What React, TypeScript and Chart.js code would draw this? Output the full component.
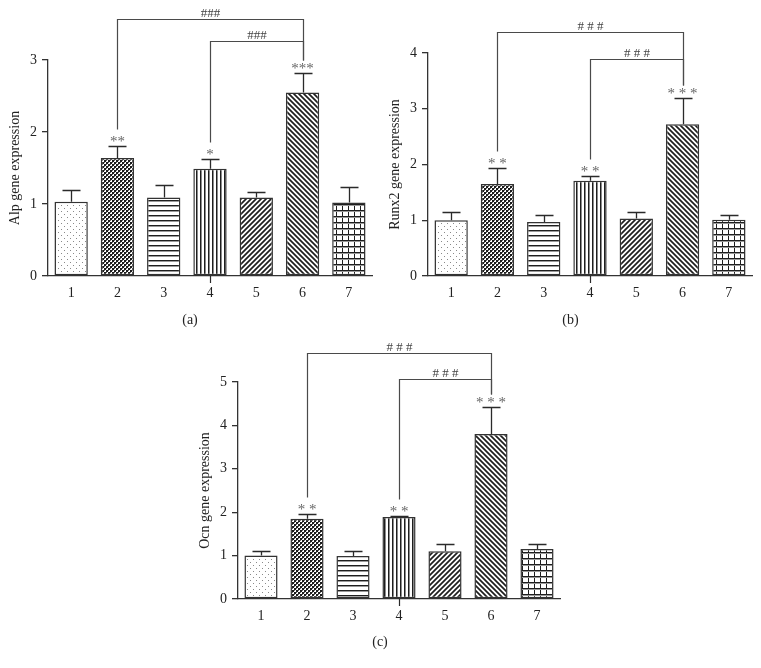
import React, { useEffect, useRef } from 'react';
import { Chart, registerables } from 'chart.js';

Chart.register(...registerables);

const categories = ['1', '2', '3', '4', '5', '6', '7'];

const alpMeans = [1.03, 1.64, 1.09, 1.49, 1.09, 2.55, 1.02];
const alpErrors = [0.17, 0.16, 0.18, 0.13, 0.08, 0.27, 0.21];
const alpStars = ['', '**', '', '*', '', '***', ''];
const alpTicks = [0, 1, 2, 3];
const alpBracketLevels = [3.57, 3.27];

const runx2Means = [1.0, 1.65, 0.97, 1.71, 1.03, 2.72, 1.01];
const runx2Errors = [0.15, 0.29, 0.13, 0.09, 0.12, 0.48, 0.09];
const runx2Stars = ['', '* *', '', '* *', '', '* * *', ''];
const runx2Ticks = [0, 1, 2, 3, 4];
const runx2BracketLevels = [4.38, 3.9];

const ocnMeans = [1.0, 1.85, 0.99, 1.89, 1.1, 3.8, 1.15];
const ocnErrors = [0.11, 0.12, 0.11, 0.02, 0.17, 0.62, 0.11];
const ocnStars = ['', '* *', '', '* *', '', '* * *', ''];
const ocnTicks = [0, 1, 2, 3, 4, 5];
const ocnBracketLevels = [5.67, 5.07];

// bracket pairs (category indices): group 2 vs 6, group 4 vs 6
const bracketFrom = [1, 3];
const bracketTo = [5, 5];

const FONT = '"Liberation Serif", "DejaVu Serif", "Times New Roman", serif';

type Panel = {
  id: string;
  means: number[];
  errors: number[];
  stars: string[];
  ticks: number[];
  levels: number[];
  hashLabel: string;
  yLabel: string;
  panelLabel: string;
  box: { left: number; top: number; width: number; height: number };
  area: { left: number; right: number; top: number; bottom: number };
  titlePad: number;
  labelY: number;
};

const panels: Panel[] = [
  {
    id: 'a', means: alpMeans, errors: alpErrors, stars: alpStars, ticks: alpTicks, levels: alpBracketLevels,
    hashLabel: '###', yLabel: 'Alp gene expression', panelLabel: '(a)',
    box: { left: 0, top: 0, width: 380, height: 330 },
    area: { left: 48, right: 372, top: 60, bottom: 276 }, titlePad: 7, labelY: 320,
  },
  {
    id: 'b', means: runx2Means, errors: runx2Errors, stars: runx2Stars, ticks: runx2Ticks, levels: runx2BracketLevels,
    hashLabel: '# # #', yLabel: 'Runx2 gene expression', panelLabel: '(b)',
    box: { left: 380, top: 0, width: 381, height: 330 },
    area: { left: 48, right: 372, top: 53, bottom: 276 }, titlePad: 7, labelY: 320,
  },
  {
    id: 'c', means: ocnMeans, errors: ocnErrors, stars: ocnStars, ticks: ocnTicks, levels: ocnBracketLevels,
    hashLabel: '# # #', yLabel: 'Ocn gene expression', panelLabel: '(c)',
    box: { left: 180, top: 330, width: 400, height: 338 },
    area: { left: 58, right: 380, top: 52, bottom: 269 }, titlePad: 17, labelY: 312,
  },
];

function tile(w: number, h: number, draw: (g: CanvasRenderingContext2D) => void): CanvasPattern {
  const c = document.createElement('canvas');
  c.width = w;
  c.height = h;
  const g = c.getContext('2d')!;
  g.fillStyle = '#ffffff';
  g.fillRect(0, 0, w, h);
  draw(g);
  return g.createPattern(c, 'repeat')!;
}

function makePatterns(): CanvasPattern[] {
  const dots = tile(6, 6, (g) => {
    g.fillStyle = '#8a8a8a';
    g.fillRect(1, 1, 1, 1);
    g.fillRect(4, 4, 1, 1);
  });
  const checker = tile(4, 4, (g) => {
    g.fillStyle = '#1c1c1c';
    g.fillRect(0, 0, 2, 2);
    g.fillRect(2, 2, 2, 2);
    g.fillStyle = '#666';
    g.fillRect(2, 0, 1, 1);
    g.fillRect(0, 2, 1, 1);
  });
  const horiz = tile(1, 5, (g) => {
    g.fillStyle = '#1e1e1e';
    g.fillRect(0, 0, 1, 1);
    g.fillStyle = '#9a9a9a';
    g.fillRect(0, 1, 1, 1);
  });
  const vert = tile(4, 1, (g) => {
    g.fillStyle = '#1e1e1e';
    g.fillRect(0, 0, 1, 1);
    g.fillStyle = '#8a8a8a';
    g.fillRect(1, 0, 1, 1);
  });
  const diagUp = tile(5, 5, (g) => {
    g.strokeStyle = '#1e1e1e';
    g.lineWidth = 1.7;
    g.beginPath();
    g.moveTo(-1, 6); g.lineTo(6, -1);
    g.moveTo(-2, 2); g.lineTo(2, -2);
    g.moveTo(3, 7); g.lineTo(7, 3);
    g.stroke();
  });
  const diagDown = tile(5, 5, (g) => {
    g.strokeStyle = '#1e1e1e';
    g.lineWidth = 1.7;
    g.beginPath();
    g.moveTo(-1, -1); g.lineTo(6, 6);
    g.moveTo(-2, 3); g.lineTo(2, 7);
    g.moveTo(3, -2); g.lineTo(7, 2);
    g.stroke();
  });
  const grid = tile(6, 6, (g) => {
    g.fillStyle = '#1e1e1e';
    g.fillRect(0, 0, 6, 1);
    g.fillRect(0, 0, 1, 6);
    g.fillStyle = '#999';
    g.fillRect(0, 1, 6, 1);
  });
  return [dots, checker, horiz, vert, diagUp, diagDown, grid];
}

function PanelChart({ p }: { p: Panel }) {
  const ref = useRef<HTMLCanvasElement>(null);
  useEffect(() => {
    const canvas = ref.current!;
    const patterns = makePatterns();
    const annot = {
      id: 'annot_' + p.id,
      afterDatasetsDraw(chart: any) {
        const ctx: CanvasRenderingContext2D = chart.ctx;
        const ys = chart.scales.y;
        const meta = chart.getDatasetMeta(0);
        const errTop: number[] = [];
        ctx.save();
        // error bars (upper only)
        ctx.strokeStyle = '#2a2a2a';
        ctx.lineWidth = 1.3;
        p.means.forEach((m, i) => {
          const x = Math.round(meta.data[i].x) + 0.5;
          const y0 = ys.getPixelForValue(m);
          const y1 = Math.round(ys.getPixelForValue(m + p.errors[i])) + 0.5;
          errTop.push(y1);
          ctx.beginPath();
          ctx.moveTo(x, y0);
          ctx.lineTo(x, y1);
          ctx.moveTo(x - 9, y1);
          ctx.lineTo(x + 9, y1);
          ctx.stroke();
        });
        // stars
        ctx.fillStyle = '#666';
        ctx.font = `15px ${FONT}`;
        ctx.textAlign = 'center';
        ctx.textBaseline = 'alphabetic';
        p.stars.forEach((s, i) => {
          if (!s) return;
          ctx.fillText(s, meta.data[i].x, errTop[i] - 1);
        });
        // brackets
        ctx.strokeStyle = '#4a4a4a';
        ctx.lineWidth = 1.2;
        p.levels.forEach((lv, k) => {
          const a = bracketFrom[k];
          const b = bracketTo[k];
          const xa = Math.round(meta.data[a].x) + 0.5;
          const xb = Math.round(meta.data[b].x) + 0.5;
          const yl = Math.round(ys.getPixelForValue(lv)) + 0.5;
          ctx.beginPath();
          ctx.moveTo(xa, errTop[a] - 17);
          ctx.lineTo(xa, yl);
          ctx.lineTo(xb, yl);
          ctx.lineTo(xb, errTop[b] - 13);
          ctx.stroke();
          ctx.fillStyle = '#444';
          ctx.font = `13px ${FONT}`;
          ctx.fillText(p.hashLabel, (xa + xb) / 2, yl - 3);
        });
        // small tick below axis at group 4
        const x4 = Math.round(meta.data[3].x) + 0.5;
        const yb = chart.chartArea.bottom;
        ctx.strokeStyle = '#2a2a2a';
        ctx.lineWidth = 1.2;
        ctx.beginPath();
        ctx.moveTo(x4, yb);
        ctx.lineTo(x4, yb + 7);
        ctx.stroke();
        // panel label
        ctx.fillStyle = '#222';
        ctx.font = `14px ${FONT}`;
        ctx.textBaseline = 'middle';
        ctx.fillText(p.panelLabel, chart.width / 2, p.labelY);
        ctx.restore();
      },
    };
    const ymax = p.ticks[p.ticks.length - 1];
    const chart = new Chart(canvas, {
      type: 'bar',
      data: {
        labels: categories,
        datasets: [
          {
            data: p.means,
            backgroundColor: patterns as any,
            borderColor: '#333333',
            borderWidth: 1.5,
            borderSkipped: false,
            barPercentage: 0.72,
            categoryPercentage: 1,
          },
        ],
      },
      options: {
        animation: false,
        responsive: false,
        maintainAspectRatio: false,
        layout: {
          padding: { top: p.area.top, right: p.box.width - p.area.right, left: 0, bottom: 0 },
        },
        plugins: { legend: { display: false }, tooltip: { enabled: false }, title: { display: false } },
        scales: {
          x: {
            grid: { display: false, drawTicks: false },
            border: { display: true, color: '#333', width: 1.3 },
            ticks: { color: '#222', font: { family: FONT, size: 14 }, padding: 9 },
            afterFit: (s: any) => { s.height = p.box.height - p.area.bottom; },
          },
          y: {
            min: 0,
            max: ymax,
            afterBuildTicks: (s: any) => { s.ticks = p.ticks.map((v) => ({ value: v })); },
            grid: { display: true, drawOnChartArea: false, drawTicks: true, tickLength: 6, color: '#333', lineWidth: 1.3 },
            border: { display: true, color: '#333', width: 1.3 },
            ticks: { color: '#222', font: { family: FONT, size: 14 }, padding: 5 },
            title: {
              display: true,
              text: p.yLabel,
              color: '#222',
              font: { family: FONT, size: 14 },
              padding: { top: p.titlePad, bottom: 0 },
            },
            afterFit: (s: any) => { s.width = p.area.left; },
          },
        },
      },
      plugins: [annot],
    });
    return () => chart.destroy();
  }, [p]);
  return (
    <canvas
      ref={ref}
      width={p.box.width}
      height={p.box.height}
      style={{ position: 'absolute', left: p.box.left, top: p.box.top, width: p.box.width, height: p.box.height }}
    />
  );
}

export default function App() {
  return (
    <div style={{ position: 'absolute', left: 0, top: 0, width: 761, height: 668, background: '#fff' }}>
      {panels.map((p) => (
        <PanelChart key={p.id} p={p} />
      ))}
    </div>
  );
}
